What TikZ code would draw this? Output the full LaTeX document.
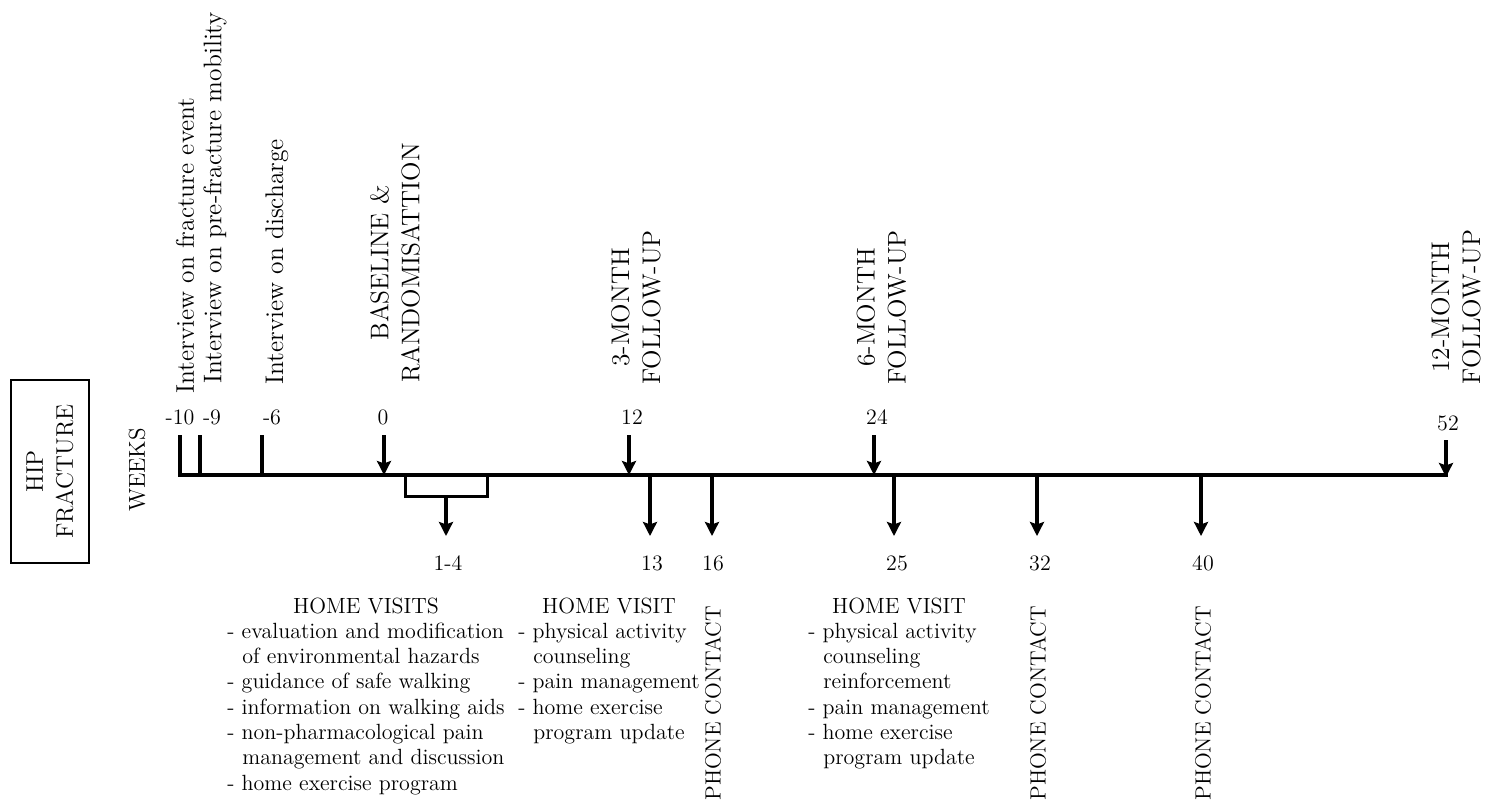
\documentclass[tikz,border=0pt]{standalone}
\usetikzlibrary{arrows.meta,positioning}
\tikzset{txt/.style={font=\fontsize{11}{12.65}\selectfont,inner sep=0pt},vtxt/.style={inner sep=0pt,rotate=90,align=center,font=\fontsize{12.75}{15.5}\selectfont},ptxt/.style={vtxt,font=\fontsize{11}{12.65}\selectfont},axis/.style={line width=2pt},brk/.style={line width=1.5pt},arr/.style={-{Stealth[length=7pt,width=7pt,inset=1.2pt]},line width=1.8pt}}
\newcommand{\indt}{\hspace*{7.5pt}}
\begin{document}
\begin{tikzpicture}[x=0.5pt,y=-0.5pt]
\useasboundingbox (0,0) rectangle (1488,811);
\node[draw,line width=0.8pt,rotate=90,align=center,minimum width=91.5pt,minimum height=39pt,font=\fontsize{12}{15}\selectfont] (hip) at (50,471.5) {HIP\\FRACTURE};
\node[ptxt,font=\fontsize{11.5}{13}\selectfont] (weeks) at (137,470) {WEEKS};
% time axis and ticks before baseline
\coordinate (tm10) at (180,435); \coordinate (tm9) at (200,435); \coordinate (tm6) at (262,435);
\coordinate (w0) at (180,475); \coordinate (w52) at (1448,475); \coordinate (low) at (0,536);
\draw[axis] (tm10) |- (w52);
\draw[axis] (tm9) -- (tm9 |- w0); \draw[axis] (tm6) -- (tm6 |- w0);
% arrows onto the axis
\coordinate (u0) at (384,435); \coordinate (u12) at (629,435); \coordinate (u24) at (874,435); \coordinate (u52) at (1446,440);
\draw[arr] (u0) -- (u0 |- w0); \draw[arr] (u12) -- (u12 |- w0); \draw[arr] (u24) -- (u24 |- w0);
\draw[arr] (u52) -- ++(0,37);
% home visits weeks 1-4
\coordinate (b1) at (405,475); \coordinate (b5) at (487,475); \coordinate (bm) at (446,496);
\draw[brk] (b1) -- ++(0,21) -| (b5);
\draw[arr] (bm) -- (bm |- low);
% arrows off the axis
\coordinate (d13) at (650,475); \coordinate (d16) at (712,475); \coordinate (d25) at (894,475); \coordinate (d32) at (1037,475); \coordinate (d40) at (1201,475);
\draw[arr] (d13) -- (d13 |- low); \draw[arr] (d16) -- (d16 |- low); \draw[arr] (d25) -- (d25 |- low);
\draw[arr] (d32) -- (d32 |- low); \draw[arr] (d40) -- (d40 |- low);
% week numbers
\node[txt] (lm10) at (180,417) {-10}; \node[txt] (lm9) at (212,417) {-9}; \node[txt] (lm6) at (272,417) {-6};
\node[txt] (l0) at (383,417) {0}; \node[txt] (l12) at (632,417) {12}; \node[txt] (l24) at (877,417) {24}; \node[txt] (l52) at (1448,423) {52};
\node[txt] (l14) at (448,563) {1-4}; \node[txt] (l13) at (652,563) {13}; \node[txt] (l16) at (713,563) {16};
\node[txt] (l25) at (897,563) {25}; \node[txt] (l32) at (1040,563) {32}; \node[txt] (l40) at (1203,563) {40};
% labels above
\node[vtxt,anchor=west] (int1) at (185,394) {Interview on fracture event};
\node[vtxt,anchor=west] (int2) at (215,384) {Interview on pre-fracture mobility};
\node[vtxt,anchor=west] (int3) at (277,385) {Interview on discharge};
\node[vtxt] (rand) at (395,263) {BASELINE \&\\RANDOMISATTION};
\node[vtxt] (fu3) at (636,307.5) {3-MONTH\\FOLLOW-UP};
\node[vtxt] (fu6) at (881.5,307.5) {6-MONTH\\FOLLOW-UP};
\node[vtxt] (fu12) at (1456,307) {12-MONTH\\FOLLOW-UP};
% labels below
\node[txt,anchor=base] (visit1) at (366,613) {\begin{tabular}[t]{@{}l@{}}\multicolumn{1}{@{}c@{}}{HOME VISITS}\\- evaluation and modification\\\indt of environmental hazards\\- guidance of safe walking\\- information on walking aids\\- non-pharmacological pain\\\indt management and discussion\\- home exercise program\end{tabular}};
\node[txt,anchor=base] (visit2) at (609,613) {\begin{tabular}[t]{@{}l@{}}\multicolumn{1}{@{}c@{}}{HOME VISIT}\\- physical activity\\\indt counseling\\- pain management\\- home exercise\\\indt program update\end{tabular}};
\node[txt,anchor=base] (visit3) at (899,613) {\begin{tabular}[t]{@{}l@{}}\multicolumn{1}{@{}c@{}}{HOME VISIT}\\- physical activity\\\indt counseling\\\indt reinforcement\\- pain management\\- home exercise\\\indt program update\end{tabular}};
\node[ptxt,anchor=west] (phone16) at (713,801) {PHONE CONTACT};
\node[ptxt,anchor=west] (phone32) at (1038,801) {PHONE CONTACT};
\node[ptxt,anchor=west] (phone40) at (1203,801) {PHONE CONTACT};
\end{tikzpicture}
\end{document}
